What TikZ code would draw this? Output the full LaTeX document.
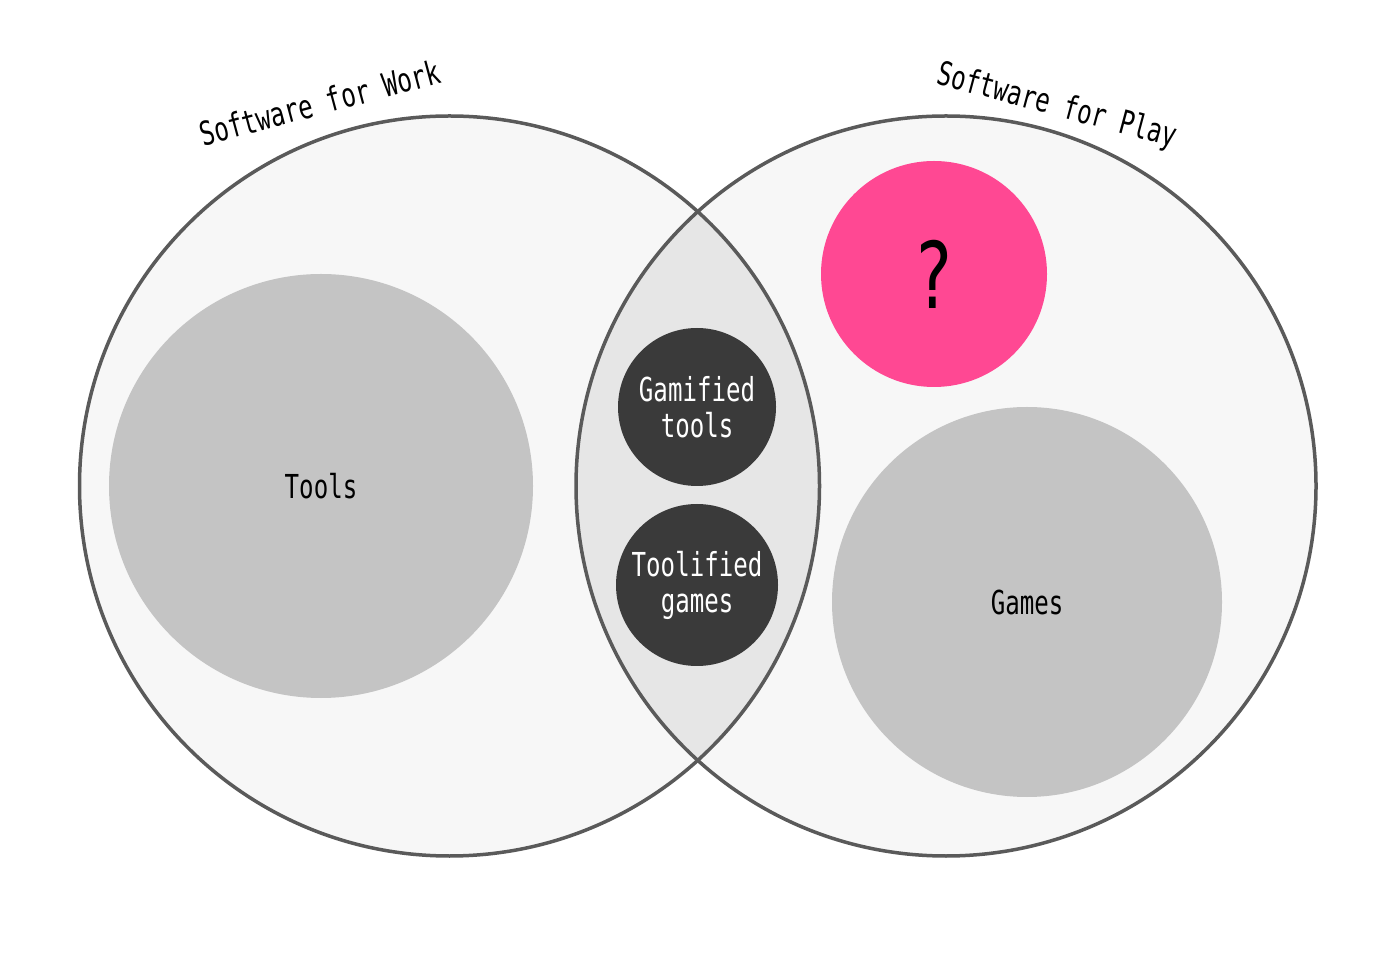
\documentclass[tikz,border=0pt]{standalone}
\usepackage{fontspec}
\newfontfamily\monofont[FakeStretch=0.73]{DejaVu Sans Mono}
\definecolor{setfill}{HTML}{F7F7F7}
\definecolor{setline}{HTML}{5A5A5A}
\definecolor{lensfill}{HTML}{E6E6E6}
\definecolor{subfill}{HTML}{C4C4C4}
\definecolor{darkfill}{HTML}{3A3A3A}
\definecolor{hotpink}{HTML}{FF4893}
\begin{document}
\begin{tikzpicture}[x=1pt, y=1pt,
    set/.style={circle, fill=setfill, inner sep=0pt, minimum size=740pt},
    rim/.style={draw=setline, line width=3.5pt},
    subset/.style={circle, fill=subfill, inner sep=0pt, font=\monofont\fontsize{33}{36}\selectfont},
    mixed/.style={circle, fill=darkfill, text=white, inner sep=0pt, align=center,
        font=\monofont\fontsize{33}{36}\selectfont},
    setlabel/.style={anchor=base, font=\monofont\fontsize{33}{36}\selectfont}]
    \useasboundingbox (0,0) rectangle (1396,972);

    % The two sets
    \node[set] (work) at (449.5,486) {};
    \node[set] (play) at (946,486) {};

    % Overlap
    \begin{scope}
        \clip (work.center) circle (370);
        \fill[lensfill] (play.center) circle (370);
    \end{scope}
    \draw[rim] (work.center) circle (370);
    \draw[rim] (play.center) circle (370);

    \node[setlabel, rotate=15] (worklabel) at (323,857.5) {Software for Work};
    \node[setlabel, rotate=-15] (playlabel) at (1054.5,856.5) {Software for Play};

    % Members
    \node[subset, minimum size=424pt] (tools) at (321,486) {Tools};
    \node[subset, minimum size=390pt] (games) at (1027,370) {Games};
    \node[circle, fill=hotpink, inner sep=0pt, minimum size=226pt,
        font=\monofont\fontsize{92}{92}\selectfont] (unknown) at (934,698) {?};

    \node[mixed, minimum size=158pt] (gamified) at (697,565) {Gamified\\tools};
    \node[mixed, minimum size=162pt] (toolified) at (697,387) {Toolified\\games};
\end{tikzpicture}
\end{document}
